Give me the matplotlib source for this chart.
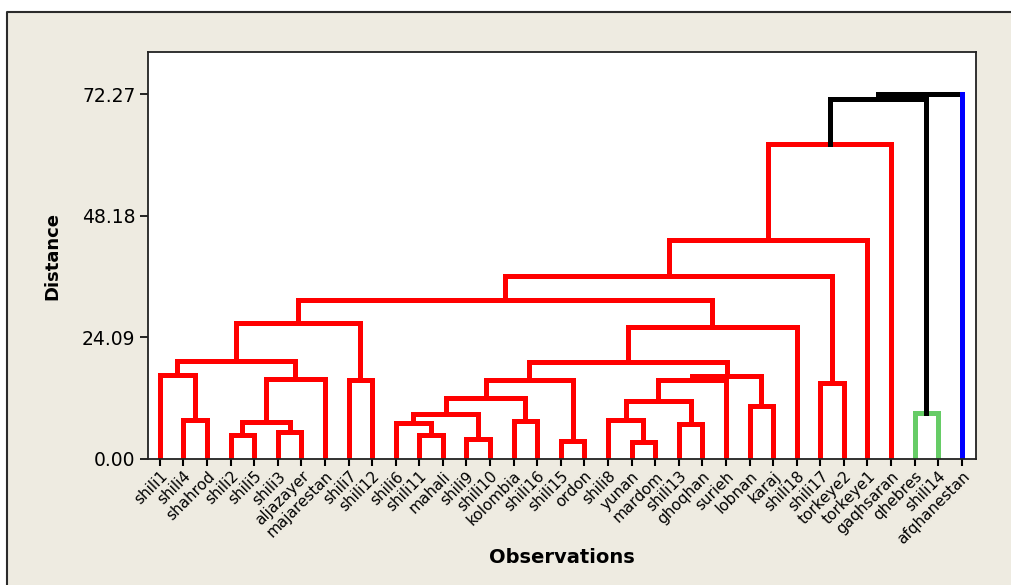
import matplotlib
matplotlib.use('Agg')
import matplotlib.pyplot as plt
from matplotlib.patches import Rectangle
from matplotlib.lines import Line2D

# leaf order as drawn on the x axis
leaves = ['shili1', 'shili4', 'shahrod', 'shili2', 'shili5', 'shili3', 'aljazayer',
          'majarestan', 'shili7', 'shili12', 'shili6', 'shili11', 'mahali', 'shili9',
          'shili10', 'kolombia', 'shili16', 'shili15', 'ordon', 'shili8', 'yunan',
          'mardom', 'shili13', 'ghoqhan', 'surieh', 'lobnan', 'karaj', 'shili18',
          'shili17', 'torkeye2', 'torkeye1', 'gaqhsaran', 'qhebres', 'shili14',
          'afqhanestan']

# merges: ids < 35 are leaves, id 35+k is the k-th merge
merge_a = [20, 17, 13, 11, 3, 5, 22, 10, 39, 15, 19, 1, 32, 25, 45, 42, 50,
           28, 0, 43, 8, 51, 49, 57, 53, 56, 59, 60, 61, 63, 64, 65, 66, 67]
merge_b = [21, 18, 14, 12, 4, 6, 23, 38, 40, 16, 35, 2, 33, 26, 41, 37, 44,
           29, 46, 7, 9, 36, 24, 48, 54, 58, 55, 27, 62, 52, 30, 31, 47, 34]
merge_dist = [3.37, 3.56, 3.96, 4.75, 4.75, 5.35, 6.93, 7.13, 7.33, 7.52, 7.72,
              7.72, 9.11, 10.49, 11.48, 8.91, 12.08, 15.05, 16.63, 15.84, 15.64,
              15.64, 15.64, 16.43, 19.40, 19.21, 26.93, 26.14, 31.48, 36.23,
              43.36, 62.37, 71.28, 72.27]

# final clusters and their colours
cluster_colours = {66: '#ff0000', 47: '#66cc66', 34: '#0000ff'}
ytick_values = [0.00, 24.09, 48.18, 72.27]

n = len(leaves)
node_x = {i: float(i) for i in range(n)}
node_h = {i: 0.0 for i in range(n)}
for k, (a, b, h) in enumerate(zip(merge_a, merge_b, merge_dist)):
    node_x[n + k] = (node_x[a] + node_x[b]) / 2
    node_h[n + k] = h

colour = {}
def paint(node, c):
    colour[node] = c
    if node >= n:
        k = node - n
        for ch in (merge_a[k], merge_b[k]):
            paint(ch, cluster_colours.get(ch, c))

root = n + len(merge_dist) - 1
paint(root, cluster_colours.get(root, 'black'))

fig = plt.figure(figsize=(10.11, 5.85), dpi=100, facecolor='white')
# beige minitab frame (only top and left edges are inside the picture)
x0, y0 = 7 / 1011, 1 - 12 / 585
fig.patches.append(Rectangle((x0, 0), 1 - x0, y0, transform=fig.transFigure,
                             facecolor='#eeebe1', edgecolor='none', zorder=-5))
fig.lines.append(Line2D([x0, x0, 1], [0, y0, y0], transform=fig.transFigure,
                        color='#2b2b2b', lw=1.5, zorder=-4))
ax = fig.add_axes([148 / 1011, 1 - 459 / 585, 828 / 1011, 407 / 585])
ax.set_facecolor('white')

lw = 3.6
for k, (a, b, h) in enumerate(zip(merge_a, merge_b, merge_dist)):
    p = n + k
    ax.plot([node_x[a], node_x[b]], [h, h], color=colour[p], lw=lw,
            solid_capstyle='projecting')
    for ch in (a, b):
        c = colour[ch] if ch < n else colour[p]
        ax.plot([node_x[ch], node_x[ch]], [node_h[ch], h], color=c, lw=lw,
                solid_capstyle='projecting')

ax.set_xlim(-0.5, 34.6)
ax.set_ylim(0, 80.6)
ax.set_xticks(range(n))
ax.set_xticklabels(leaves, rotation=45, ha='right', rotation_mode='anchor',
                   fontsize=11)
ax.set_yticks(ytick_values)
ax.set_yticklabels(['%.2f' % v for v in ytick_values], fontsize=13.5)
ax.tick_params(axis='x', length=5, width=1.5, pad=2)
ax.tick_params(axis='y', length=6, width=1.2, pad=3)
for s in ax.spines.values():
    s.set_color('#222222')
    s.set_linewidth(1.3)

ax.set_ylabel('Distance', fontsize=13, fontweight='bold')
ax.yaxis.set_label_coords(-0.116, 0.5)
ax.yaxis.label.set_va('center')
ax.set_xlabel('Observations', fontsize=14, fontweight='bold')
ax.xaxis.set_label_coords(0.5, -0.241)
ax.xaxis.label.set_va('center')

fig.savefig('out.png', dpi=100, facecolor=fig.get_facecolor())
